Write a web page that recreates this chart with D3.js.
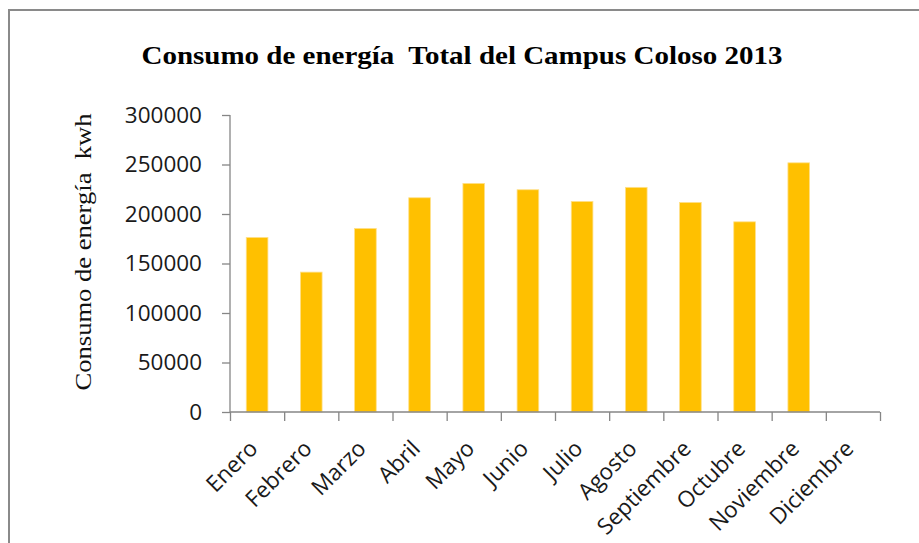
<!DOCTYPE html>
<html>
<head>
<meta charset="utf-8">
<script src="https://cdn.jsdelivr.net/npm/d3@7"></script>
<style>
  body { margin: 0; background: #fff; }
  .ytick text { font-family: "Open Sans", sans-serif; font-size: 22.5px; fill: #1a1a1a; }
  .xlabel { font-family: "Open Sans", sans-serif; font-size: 22.5px; fill: #1a1a1a; }
</style>
</head>
<body>
<div id="chart"></div>
<script>
var svgWidth = 919;
var svgHeight = 543;

// data (kWh per month, Diciembre empty)
var months = ["Enero", "Febrero", "Marzo", "Abril", "Mayo", "Junio", "Julio",
  "Agosto", "Septiembre", "Octubre", "Noviembre", "Diciembre"];
var consumo = [176300, 141300, 185400, 216400, 230900, 224500, 212700,
  226900, 211700, 192100, 251700, null];
var yTicks = [0, 50000, 100000, 150000, 200000, 250000, 300000];

var titleText = "Consumo de energía  Total del Campus Coloso 2013";
var yLabelText = "Consumo de energía  kwh";

var margin = { top: 115, right: 39, bottom: 131, left: 230 };
var width = svgWidth - margin.left - margin.right;
var height = svgHeight - margin.top - margin.bottom;

var svg = d3.select("#chart")
  .append("svg")
  .attr("width", svgWidth)
  .attr("height", svgHeight);

// outer frame
svg.append("rect")
  .attr("x", 9).attr("y", 10)
  .attr("width", svgWidth + 20).attr("height", svgHeight + 20)
  .attr("fill", "none")
  .attr("stroke", "#8a8a8a")
  .attr("stroke-width", 2);

var chartGroup = svg.append("g")
  .attr("transform", `translate(${margin.left}, ${margin.top})`);

var x = d3.scaleBand()
  .domain(months)
  .range([0, width])
  .paddingInner(0.6)
  .paddingOuter(0.3);

// boundaries between categories, for the tick marks
var xEdges = d3.scaleLinear()
  .domain([0, months.length])
  .range([0, width]);

var y = d3.scaleLinear()
  .domain([0, 300000])
  .range([height, 0]);

// bars
chartGroup.selectAll(".bar")
  .data(months.map(function(m, i) { return { month: m, value: consumo[i] }; })
    .filter(function(d) { return d.value != null; }))
  .enter()
  .append("rect")
  .attr("class", "bar")
  .attr("x", function(d) { return x(d.month); })
  .attr("y", function(d) { return y(d.value); })
  .attr("width", x.bandwidth())
  .attr("height", function(d) { return height - y(d.value); })
  .attr("fill", "#ffc000")
  .attr("stroke", "#ffe08a")
  .attr("stroke-width", 0.8);

// y axis
var yAxis = chartGroup.append("g")
  .attr("class", "ytick")
  .call(d3.axisLeft(y).tickValues(yTicks).tickSize(8).tickPadding(20).tickFormat(d3.format("d")));
yAxis.selectAll("line, path").attr("stroke", "#868686").attr("stroke-width", 1.3);
yAxis.select(".domain").attr("d", `M0,${height}V0`);

// x axis
var xAxis = chartGroup.append("g")
  .attr("transform", "translate(0," + height + ")")
  .call(d3.axisBottom(xEdges).tickValues(d3.range(months.length + 1)).tickSize(9).tickFormat(""));
xAxis.selectAll("line, path").attr("stroke", "#868686").attr("stroke-width", 1.3);
xAxis.select(".domain").attr("d", `M0,0H${width}`);

chartGroup.selectAll(".xlabel")
  .data(months)
  .enter()
  .append("text")
  .attr("class", "xlabel")
  .attr("text-anchor", "end")
  .attr("transform", function(d) {
    return "translate(" + (x(d) + x.bandwidth() / 2 + 2) + "," + (height + 38) + ") rotate(-45)";
  })
  .text(function(d) { return d; });

// title
svg.append("text")
  .attr("x", 462)
  .attr("y", 64)
  .attr("text-anchor", "middle")
  .attr("textLength", 641)
  .attr("lengthAdjust", "spacingAndGlyphs")
  .style("white-space", "pre")
  .style("font-family", "'Liberation Serif', 'Times New Roman', serif")
  .style("font-weight", "bold")
  .style("font-size", "25px")
  .text(titleText);

// y axis title
svg.append("text")
  .attr("transform", "translate(91,252) rotate(-90)")
  .attr("text-anchor", "middle")
  .attr("textLength", 277)
  .attr("lengthAdjust", "spacingAndGlyphs")
  .style("white-space", "pre")
  .style("font-family", "'Liberation Serif', 'Times New Roman', serif")
  .style("font-size", "24px")
  .style("fill", "#111")
  .text(yLabelText);
</script>
</body>
</html>
